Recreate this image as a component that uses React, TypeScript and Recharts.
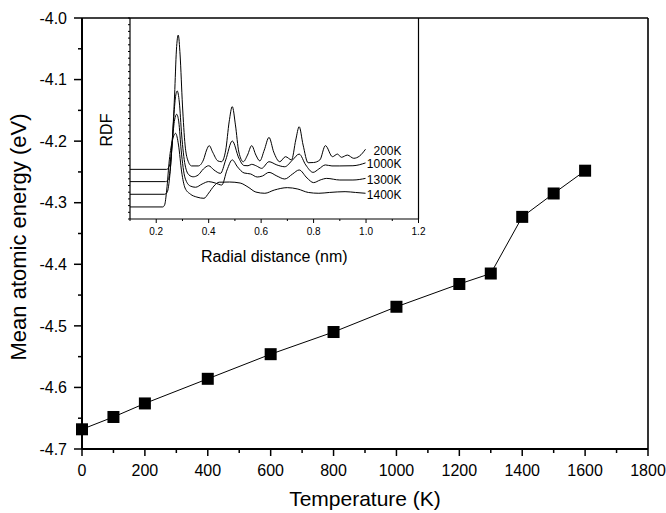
import React from "react";
import { ComposedChart, LineChart, Line, XAxis, YAxis, ReferenceLine, Label } from "recharts";

const FONT = "'Liberation Sans', Arial, sans-serif";

// main plot: mean atomic energy vs temperature
const temps = [0, 100, 200, 400, 600, 800, 1000, 1200, 1300, 1400, 1500, 1600];
const energies = [-4.668, -4.648, -4.626, -4.586, -4.546, -4.51, -4.469, -4.432, -4.415, -4.323, -4.285, -4.248];
const xTicks = [0, 100, 200, 300, 400, 500, 600, 700, 800, 900, 1000, 1100, 1200, 1300, 1400, 1500, 1600, 1700, 1800];
const yTicks = [-4.7, -4.65, -4.6, -4.55, -4.5, -4.45, -4.4, -4.35, -4.3, -4.25, -4.2, -4.15, -4.1, -4.05, -4.0];

// inset: radial distribution functions (stacked, arbitrary units)
const rdf200: [number, number][] = [
  [0.1, 2.47], [0.24, 2.47], [0.25, 2.64], [0.26, 3.68], [0.27, 6.17], [0.277, 8.41], [0.284, 9.15],
  [0.291, 8.16], [0.3, 5.67], [0.31, 3.68], [0.32, 2.94], [0.335, 2.64], [0.36, 2.64], [0.38, 2.94],
  [0.392, 3.43], [0.402, 3.65], [0.415, 3.33], [0.435, 2.89], [0.449, 2.85], [0.465, 3.43], [0.478, 4.83],
  [0.49, 5.59], [0.502, 4.68], [0.515, 3.33], [0.532, 2.85], [0.548, 3.18], [0.564, 3.65], [0.58, 3.18],
  [0.595, 2.89], [0.612, 3.43], [0.63, 4.06], [0.648, 3.33], [0.671, 2.85], [0.693, 3.1], [0.716, 2.94],
  [0.732, 3.93], [0.745, 4.59], [0.76, 3.68], [0.779, 2.8], [0.8, 2.81], [0.824, 2.94], [0.845, 3.65],
  [0.872, 3.1], [0.891, 3.23], [0.906, 3.07], [0.929, 3.18], [0.953, 3.02], [0.975, 3.13], [0.998, 3.47],
];
const rdf1000: [number, number][] = [
  [0.1, 1.86], [0.235, 1.86], [0.245, 1.94], [0.255, 2.69], [0.265, 4.68], [0.273, 6.02], [0.28, 6.37],
  [0.288, 5.82], [0.297, 4.18], [0.31, 2.69], [0.325, 2.19], [0.341, 2.1], [0.36, 2.19], [0.38, 2.49],
  [0.4, 2.65], [0.42, 2.44], [0.445, 2.27], [0.465, 2.94], [0.49, 3.88], [0.515, 3.03], [0.535, 2.66],
  [0.55, 2.65], [0.564, 2.72], [0.582, 2.64], [0.602, 2.52], [0.63, 2.85], [0.66, 2.69], [0.69, 2.6],
  [0.72, 2.94], [0.745, 3.23], [0.77, 2.69], [0.798, 2.32], [0.82, 2.49], [0.845, 2.69], [0.87, 2.64],
  [0.9, 2.64], [0.95, 2.65], [0.998, 2.79],
];
const rdf1300: [number, number][] = [
  [0.1, 1.23], [0.232, 1.23], [0.242, 1.34], [0.252, 2.19], [0.262, 3.93], [0.27, 4.93], [0.278, 5.21],
  [0.286, 4.83], [0.295, 3.43], [0.31, 2.04], [0.33, 1.64], [0.35, 1.58], [0.375, 1.74], [0.4, 1.86],
  [0.425, 1.79], [0.45, 1.69], [0.47, 2.44], [0.49, 2.94], [0.51, 2.59], [0.535, 2.29], [0.56, 2.24],
  [0.585, 2.09], [0.605, 2.14], [0.63, 2.32], [0.66, 2.14], [0.69, 1.99], [0.72, 2.24], [0.745, 2.44],
  [0.775, 2.04], [0.8, 1.81], [0.825, 1.94], [0.85, 2.02], [0.9, 1.94], [0.95, 1.94], [0.998, 2.02],
];
const rdf1400: [number, number][] = [
  [0.1, 0.6], [0.225, 0.6], [0.232, 0.7], [0.24, 1.44], [0.25, 2.94], [0.262, 3.93], [0.274, 4.26],
  [0.285, 3.68], [0.297, 2.34], [0.31, 1.54], [0.33, 1.24], [0.355, 1.09], [0.382, 1.03], [0.4, 1.29],
  [0.42, 1.64], [0.44, 1.83], [0.48, 1.84], [0.52, 1.79], [0.55, 1.59], [0.58, 1.34], [0.614, 1.28],
  [0.65, 1.44], [0.7, 1.56], [0.74, 1.49], [0.78, 1.32], [0.82, 1.28], [0.86, 1.32], [0.92, 1.36],
  [0.96, 1.32], [0.998, 1.28],
];
const rdfSeries = [
  { name: "200K", points: rdf200 },
  { name: "1000K", points: rdf1000 },
  { name: "1300K", points: rdf1300 },
  { name: "1400K", points: rdf1400 },
];
const insetXTicks = [0.1, 0.2, 0.3, 0.4, 0.5, 0.6, 0.7, 0.8, 0.9, 1.0, 1.1, 1.2];
const insetYTicks = Array.from({ length: 31 }, (_, i) => i / 3);

const mainData = temps.map((t, i) => ({ t, e: energies[i] }));

function MainXTick({ x, y, payload }: any) {
  const major = payload.value % 200 === 0;
  return (
    <g>
      <line x1={x} x2={x} y1={y} y2={y + (major ? 7 : 4)} stroke="#000" strokeWidth={1.5} />
      {major && (
        <text x={x} y={y + 27} textAnchor="middle" fontSize={16} fill="#000" fontFamily={FONT}>
          {payload.value}
        </text>
      )}
    </g>
  );
}

function MainYTick({ x, y, payload }: any) {
  const major = Math.round(payload.value * 100) % 10 === 0;
  return (
    <g>
      <line x1={x - (major ? 8 : 4)} x2={x} y1={y} y2={y} stroke="#000" strokeWidth={1.5} />
      {major && (
        <text x={x - 15} y={y} dy="0.36em" textAnchor="end" fontSize={16} fill="#000" fontFamily={FONT}>
          {payload.value.toFixed(1)}
        </text>
      )}
    </g>
  );
}

function InsetXTick({ x, y, payload }: any) {
  const major = Math.round(payload.value * 10) % 2 === 0;
  return (
    <g>
      <line x1={x} x2={x} y1={y} y2={y + (major ? 4 : 2)} stroke="#000" strokeWidth={1} />
      {major && (
        <text x={x} y={y + 16} textAnchor="middle" fontSize={10} fill="#000" fontFamily={FONT}>
          {payload.value.toFixed(1)}
        </text>
      )}
    </g>
  );
}

function InsetYTick({ x, y }: any) {
  return <line x1={x - 2} x2={x} y1={y} y2={y} stroke="#000" strokeWidth={1} />;
}

function Square(p: any) {
  return <rect key={`sq${p.index}`} x={p.cx - 6} y={p.cy - 6} width={12} height={12} fill="#000" />;
}

export default function App() {
  return (
    <div style={{ position: "absolute", left: 0, top: 0, width: 666, height: 513, background: "#fff", fontFamily: FONT }}>
      <ComposedChart width={666} height={513} data={mainData} margin={{ top: 18, right: 18, bottom: 0, left: 0 }}>
        <XAxis
          dataKey="t"
          type="number"
          domain={[0, 1800]}
          ticks={xTicks}
          interval={0}
          tick={(p: any) => <MainXTick {...p} />}
          tickSize={0}
          tickMargin={0}
          tickLine={false}
          axisLine={{ stroke: "#000", strokeWidth: 2 }}
          height={64}
        >
          <Label
            content={({ viewBox }: any) => (
              <text x={viewBox.x + viewBox.width / 2} y={viewBox.y + 57} textAnchor="middle" fontSize={21} fill="#000" fontFamily={FONT}>
                Temperature (K)
              </text>
            )}
          />
        </XAxis>
        <YAxis
          type="number"
          domain={[-4.7, -4.0]}
          allowDataOverflow
          ticks={yTicks}
          interval={0}
          tick={(p: any) => <MainYTick {...p} />}
          tickSize={0}
          tickMargin={0}
          tickLine={false}
          axisLine={{ stroke: "#000", strokeWidth: 2 }}
          width={82}
        >
          <Label
            content={({ viewBox }: any) => {
              const cx = viewBox.x + 26;
              const cy = viewBox.y + viewBox.height / 2 + 3.5;
              return (
                <text x={cx} y={cy} transform={`rotate(-90, ${cx}, ${cy})`} textAnchor="middle" fontSize={22} fill="#000" fontFamily={FONT}>
                  Mean atomic energy (eV)
                </text>
              );
            }}
          />
        </YAxis>
        <ReferenceLine y={-4.0} stroke="#000" strokeWidth={1.6} />
        <ReferenceLine x={1800} stroke="#000" strokeWidth={1.6} />
        <Line
          dataKey="e"
          type="linear"
          stroke="#000"
          strokeWidth={1}
          dot={Square}
          activeDot={false}
          isAnimationActive={false}
        />
      </ComposedChart>

      <div style={{ position: "absolute", left: 90, top: 0 }}>
        <LineChart width={350} height={280} margin={{ top: 18, right: 21.5, bottom: 18, left: 20 }}>
          <XAxis
            dataKey="r"
            type="number"
            domain={[0.1, 1.2]}
            allowDataOverflow
            ticks={insetXTicks}
            interval={0}
            tick={(p: any) => <InsetXTick {...p} />}
            tickSize={0}
            tickMargin={0}
            tickLine={false}
            axisLine={{ stroke: "#000", strokeWidth: 1.2 }}
            height={43}
          >
            <Label
              content={({ viewBox }: any) => (
                <text x={viewBox.x + viewBox.width / 2} y={viewBox.y + 43} textAnchor="middle" fontSize={16} fill="#000" fontFamily={FONT}>
                  Radial distance (nm)
                </text>
              )}
            />
          </XAxis>
          <YAxis
            type="number"
            domain={[0, 10]}
            allowDataOverflow
            ticks={insetYTicks}
            interval={0}
            tick={(p: any) => <InsetYTick {...p} />}
            tickSize={0}
            tickMargin={0}
            tickLine={false}
            axisLine={{ stroke: "#000", strokeWidth: 1.2 }}
            width={20}
          >
            <Label
              content={({ viewBox }: any) => {
                const cx = viewBox.x + 2;
                const cy = viewBox.y + 112;
                return (
                  <text x={cx} y={cy} transform={`rotate(-90, ${cx}, ${cy})`} textAnchor="middle" fontSize={16} fill="#000" fontFamily={FONT}>
                    RDF
                  </text>
                );
              }}
            />
          </YAxis>
          <ReferenceLine x={1.2} stroke="#000" strokeWidth={1.2} />
          {rdfSeries.map((s) => {
            const data = s.points.map(([r, g]) => ({ r, g }));
            const last = data.length - 1;
            return (
              <Line
                key={s.name}
                data={data}
                dataKey="g"
                type="monotone"
                stroke="#000"
                strokeWidth={1}
                activeDot={false}
                isAnimationActive={false}
                dot={(p: any) =>
                  p.index === last ? (
                    <text key={`lb${s.name}`} x={p.cx + 36} y={p.cy + 5.5} textAnchor="end" fontSize={12} fill="#000" fontFamily={FONT}>
                      {s.name}
                    </text>
                  ) : (
                    <g key={`n${s.name}${p.index}`} />
                  )
                }
              />
            );
          })}
        </LineChart>
      </div>
    </div>
  );
}
